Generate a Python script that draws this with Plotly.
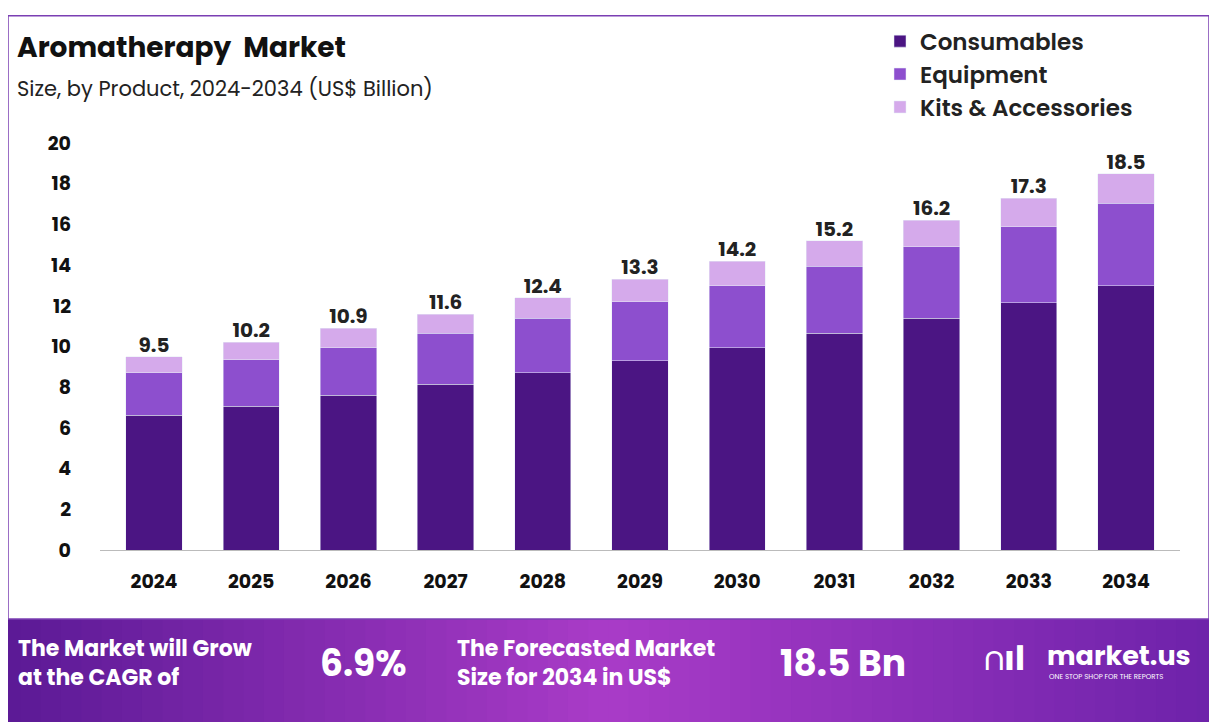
import plotly.graph_objects as go

years = ["2024", "2025", "2026", "2027", "2028", "2029", "2030", "2031", "2032", "2033", "2034"]
consumables = [6.63, 7.07, 7.60, 8.14, 8.72, 9.30, 9.93, 10.65, 11.38, 12.15, 12.98]
equipment = [2.09, 2.28, 2.33, 2.51, 2.66, 2.90, 3.05, 3.30, 3.52, 3.75, 4.07]
kits = [0.78, 0.85, 0.97, 0.95, 1.02, 1.10, 1.22, 1.25, 1.30, 1.40, 1.45]
totals = ["9.5", "10.2", "10.9", "11.6", "12.4", "13.3", "14.2", "15.2", "16.2", "17.3", "18.5"]
total_vals = [9.5, 10.2, 10.9, 11.6, 12.4, 13.3, 14.2, 15.2, 16.2, 17.3, 18.5]

W, H = 1217, 722
OFF = 8  # page body margin
L, R, T, B = 100 - OFF, 37 + OFF, 130 - OFF, 172 + OFF
FONT = "Poppins, Lato, Open Sans, sans-serif"


def px(x):
    return (x - OFF - L) / (W - L - R)


def py(y):
    return (H - B - (y - OFF)) / (H - T - B)


fig = go.Figure()
fig.add_trace(go.Bar(x=years, y=consumables, name="Consumables", marker_color="#4b1583"))
fig.add_trace(go.Bar(x=years, y=equipment, name="Equipment", marker_color="#8d4fce"))
fig.add_trace(go.Bar(x=years, y=kits, name="Kits & Accessories", marker_color="#d5aaeb"))
fig.add_trace(go.Scatter(x=years, y=total_vals, mode="text", text=totals, textposition="top center",
                         textfont=dict(size=20, color="#222", family=FONT, weight="bold"),
                         showlegend=False, hoverinfo="skip", cliponaxis=False))

shapes = []
n = 60
c1, c2, c3 = (92, 26, 150), (170, 60, 200), (110, 35, 170)
for i in range(n):
    t = i / (n - 1)
    if t < 0.5:
        a, b, s = c1, c2, t * 2
    else:
        a, b, s = c2, c3, (t - 0.5) * 2
    col = "rgb(%d,%d,%d)" % tuple(int(a[k] + (b[k] - a[k]) * s) for k in range(3))
    shapes.append(dict(type="rect", xref="paper", yref="paper", layer="below",
                       x0=px(W * i / n), x1=px(W * (i + 1) / n + 1), y0=py(620), y1=py(H + OFF),
                       line_width=0, fillcolor=col))
shapes.append(dict(type="rect", xref="paper", yref="paper", x0=px(8), x1=px(1209),
                   y0=py(8), y1=py(620), line=dict(color="#7b3fb3", width=1.5)))

ann = [
    dict(x=px(15), y=py(40), text="<b>Aromatherapy  Market</b>", font=dict(size=28, color="#111")),
    dict(x=px(15), y=py(82), text="Size, by Product, 2024-2034 (US$ Billion)", font=dict(size=21, color="#222")),
    dict(x=px(16), y=py(665), text="<b>The Market will Grow<br>at the CAGR of</b>", font=dict(size=22, color="white")),
    dict(x=px(318), y=py(665), text="<b>6.9%</b>", font=dict(size=36, color="white")),
    dict(x=px(455), y=py(665), text="<b>The Forecasted Market<br>Size for 2034 in US$</b>", font=dict(size=22, color="white")),
    dict(x=px(778), y=py(665), text="<b>18.5 Bn</b>", font=dict(size=36, color="white")),
    dict(x=px(982), y=py(660), text="<b>\u2229\u0131l</b>", font=dict(size=34, color="white")),
    dict(x=px(1045), y=py(657), text="<b>market.us</b>", font=dict(size=27, color="white")),
    dict(x=px(1047), y=py(678), text="ONE STOP SHOP FOR THE REPORTS", font=dict(size=7, color="white")),
]
for a in ann:
    a.update(xref="paper", yref="paper", xanchor="left", yanchor="middle", showarrow=False, align="left")
    a["font"]["family"] = FONT

fig.update_layout(
    width=W, height=H, margin=dict(l=L, r=R, t=T, b=B),
    barmode="stack", bargap=0.42,
    plot_bgcolor="white", paper_bgcolor="white",
    font=dict(family=FONT),
    shapes=shapes, annotations=ann,
    legend=dict(x=px(880), y=py(12), xanchor="left", yanchor="top", traceorder="normal",
                font=dict(size=23, color="#222", family=FONT, weight=600), itemwidth=30,
                tracegroupgap=0, bgcolor="rgba(0,0,0,0)"),
    xaxis=dict(showgrid=False, showline=True, linecolor="#bbb", ticks="", ticklabelstandoff=14,
               tickfont=dict(size=19, color="#111", family=FONT, weight="bold")),
    yaxis=dict(range=[0, 20.35], dtick=2, showgrid=False, zeroline=False, ticks="", ticklabelstandoff=28,
               tickfont=dict(size=19, color="#111", family=FONT, weight="bold")),
)

fig.write_html("out.html")
